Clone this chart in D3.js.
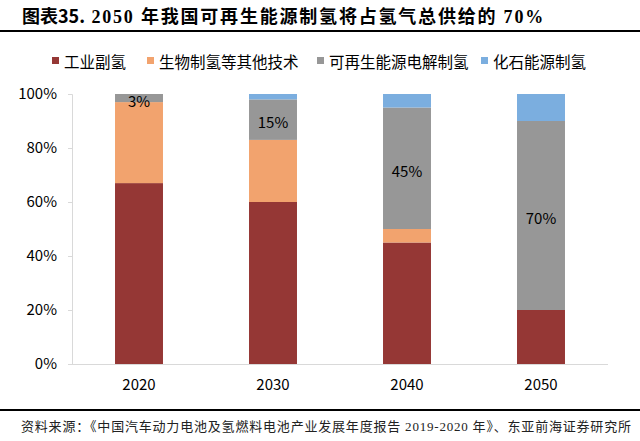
<!DOCTYPE html>
<html><head><meta charset="utf-8">
<script src="https://cdn.jsdelivr.net/npm/d3@7"></script>
<style>body{margin:0;background:#fff}svg{display:block}</style>
</head><body>
<script>
const years = ["2020","2030","2040","2050"];
const seriesNames = ["工业副氢","生物制氢等其他技术","可再生能源电解制氢","化石能源制氢"];
const industrial = [67,60,45,20];
const bio = [30,23,5,0];
const renewable = [3,15,45,70];
const fossil = [0,2,5,10];
const labelTexts = ["3%","15%","45%","70%"];
const yTicks = [0,20,40,60,80,100];
const colors = ["#953735","#F2A36E","#979797","#7BAEDF"];

const W=640,H=441;
const svg=d3.select("body").append("svg").attr("width",W).attr("height",H);
const sans='"Noto Sans CJK SC","Noto Sans",sans-serif';
const serif='"Liberation Serif","DejaVu Serif","Noto Sans CJK SC",serif';

// title
const t=svg.append("text").attr("x",22).attr("y",23).attr("font-size",18).attr("font-weight","bold").attr("fill","#000");
t.append("tspan").attr("font-family",sans).text("图表35.");
t.append("tspan").attr("font-family",serif).attr("letter-spacing",1.8).text(" 2050 年我国可再生能源制氢将占氢气总供给的 70%");
svg.append("rect").attr("x",0).attr("y",30).attr("width",W).attr("height",2).attr("fill","#000");

// data table
const rows=years.map((y,i)=>({year:y,s0:industrial[i],s1:bio[i],s2:renewable[i],s3:fossil[i]}));
const keys=["s0","s1","s2","s3"];
const stack=d3.stack().keys(keys)(rows);

const x=d3.scaleBand().domain(years).range([72,608]).paddingInner(0.642).paddingOuter(0.321);
const y=d3.scaleLinear().domain([0,100]).range([364,94]);

// y axis
const ya=svg.append("g").attr("transform","translate(72,0)")
  .call(d3.axisLeft(y).tickValues(yTicks).tickFormat(d=>d+"%").tickSize(4).tickPadding(11));
ya.select(".domain").attr("stroke","#d9d9d9");
ya.selectAll(".tick line").attr("stroke","#d9d9d9");
ya.selectAll("text").attr("font-family",sans).attr("font-size",15).attr("fill","#000");

// bars
stack.forEach((layer,k)=>{
  svg.append("g").selectAll("rect").data(layer).join("rect")
    .attr("x",d=>x(d.data.year)).attr("width",x.bandwidth())
    .attr("y",d=>y(d[1])).attr("height",d=>y(d[0])-y(d[1]))
    .attr("fill",colors[k]);
});

// x axis
const xa=svg.append("g").attr("transform","translate(0,364)")
  .call(d3.axisBottom(x).tickSize(0).tickPadding(15));
xa.select(".domain").attr("stroke","#d9d9d9").attr("d","M68,0.5H608");
xa.selectAll("text").attr("font-family",sans).attr("font-size",15).attr("fill","#000");

// labels on renewable segment
svg.append("g").selectAll("text").data(stack[2]).join("text")
  .attr("x",d=>x(d.data.year)+x.bandwidth()/2)
  .attr("y",d=>(y(d[0])+y(d[1]))/2+2)
  .attr("text-anchor","middle").attr("dominant-baseline","central")
  .attr("font-family",sans).attr("font-size",15).attr("fill","#000")
  .text((d,i)=>labelTexts[i]);

// legend
const legX=[52,147,317,481];
const lg=svg.append("g");
seriesNames.forEach((n,i)=>{
  lg.append("rect").attr("x",legX[i]).attr("y",57).attr("width",7).attr("height",7).attr("fill",colors[i]);
  lg.append("text").attr("x",legX[i]+12).attr("y",60.5).attr("dominant-baseline","central")
    .attr("font-family",sans).attr("font-size",15.5).attr("fill","#000").text(n);
});

// footer
svg.append("rect").attr("x",0).attr("y",409).attr("width",W).attr("height",2).attr("fill","#000");
svg.append("text").attr("x",21).attr("y",431).attr("font-family",serif).attr("font-size",13).attr("fill","#222")
  .attr("textLength",610).attr("lengthAdjust","spacing")
  .text("资料来源：《中国汽车动力电池及氢燃料电池产业发展年度报告 2019-2020 年》、东亚前海证券研究所");
</script>
</body></html>
